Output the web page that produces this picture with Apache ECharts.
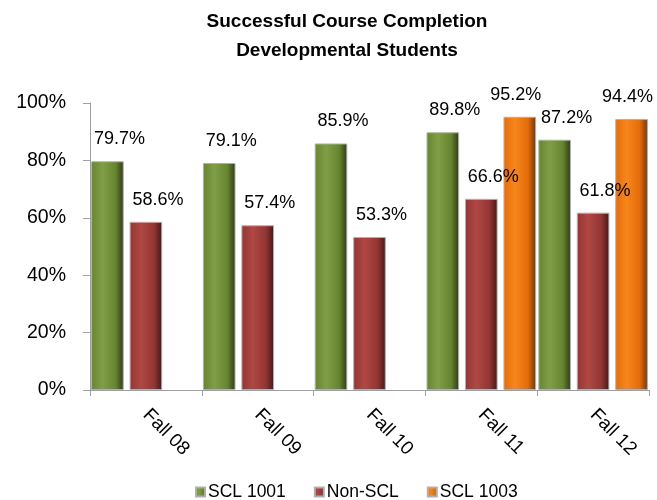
<!DOCTYPE html>
<html>
<head>
<meta charset="utf-8">
<script src="https://cdn.jsdelivr.net/npm/echarts@6/dist/echarts.min.js"></script>
<style>
  html, body { margin: 0; padding: 0; background: #fff; }
  #chart { width: 657px; height: 500px; }
</style>
</head>
<body>
<div id="chart"></div>
<script>
var categories = ["Fall 08", "Fall 09", "Fall 10", "Fall 11", "Fall 12"];
var scl1001 = [79.7, 79.1, 85.9, 89.8, 87.2];
var nonScl = [58.6, 57.4, 53.3, 66.6, 61.8];
var scl1003 = [null, null, null, 95.2, 94.4];
var yTicks = [0, 20, 40, 60, 80, 100];

var font = "Liberation Sans";

// horizontal gradient to give the bars a rounded look
function barFill(light, mid, dark) {
    return new echarts.graphic.LinearGradient(0, 0, 1, 0, [
        { offset: 0, color: mid },
        { offset: 0.35, color: light },
        { offset: 0.75, color: mid },
        { offset: 1, color: dark }
    ]);
}

function pctLabel(offsetX) {
    return {
        show: true,
        position: "top",
        distance: 13,
        offset: [offsetX, 0],
        fontFamily: font,
        fontSize: 18,
        color: "#000",
        formatter: function (p) { return p.value.toFixed(1) + "%"; }
    };
}

var chart = echarts.init(document.getElementById("chart"));

var option = {
    animation: false,
    title: {
        text: "Successful Course Completion\nDevelopmental Students",
        left: 342,
        textAlign: "center",
        top: 2,
        textStyle: {
            fontFamily: font,
            fontSize: 19,
            fontWeight: "bold",
            color: "#000",
            lineHeight: 29
        }
    },
    legend: {
        top: 478,
        left: 190,
        icon: "rect",
        itemWidth: 9,
        itemHeight: 9,
        itemGap: 28,
        textStyle: { fontFamily: font, fontSize: 17.5, color: "#000", padding: [0, 0, 0, -2] },
        data: ["SCL 1001", "Non-SCL", "SCL 1003"]
    },
    grid: {
        left: 90,
        right: 8,
        top: 103,
        bottom: 110,
        containLabel: false
    },
    xAxis: {
        type: "category",
        data: categories,
        axisLine: { lineStyle: { color: "#a0a0a0" } },
        axisTick: { show: true, length: 6, lineStyle: { color: "#a0a0a0" } },
        axisLabel: {
            rotate: -45,
            margin: 22,
            fontFamily: font,
            fontSize: 19,
            color: "#000"
        }
    },
    yAxis: {
        type: "value",
        min: yTicks[0],
        max: yTicks[yTicks.length - 1],
        interval: 20,
        splitLine: { show: false },
        axisLine: { show: true, lineStyle: { color: "#a0a0a0" } },
        axisTick: { show: true, length: 7, lineStyle: { color: "#a0a0a0" } },
        axisLabel: {
            margin: 24,
            fontFamily: font,
            fontSize: 19.5,
            color: "#000",
            formatter: "{value}%"
        }
    },
    series: [
        {
            name: "SCL 1001",
            type: "bar",
            data: scl1001,
            barGap: "18%",
            barCategoryGap: "2%",
            itemStyle: {
                color: barFill("#7f9e45", "#67852f", "#2c3a14"),
                borderColor: "#b0b0b0",
                borderWidth: 1
            },
            label: pctLabel(12)
        },
        {
            name: "Non-SCL",
            type: "bar",
            data: nonScl,
            itemStyle: {
                color: barFill("#b04744", "#923633", "#4a1514"),
                borderColor: "#b0b0b0",
                borderWidth: 1
            },
            label: pctLabel(12)
        },
        {
            name: "SCL 1003",
            type: "bar",
            data: scl1003,
            itemStyle: {
                color: barFill("#f7861c", "#e46c0a", "#7a3300"),
                borderColor: "#b0b0b0",
                borderWidth: 1
            },
            label: pctLabel(-4)
        }
    ]
};

chart.setOption(option);
</script>
</body>
</html>
